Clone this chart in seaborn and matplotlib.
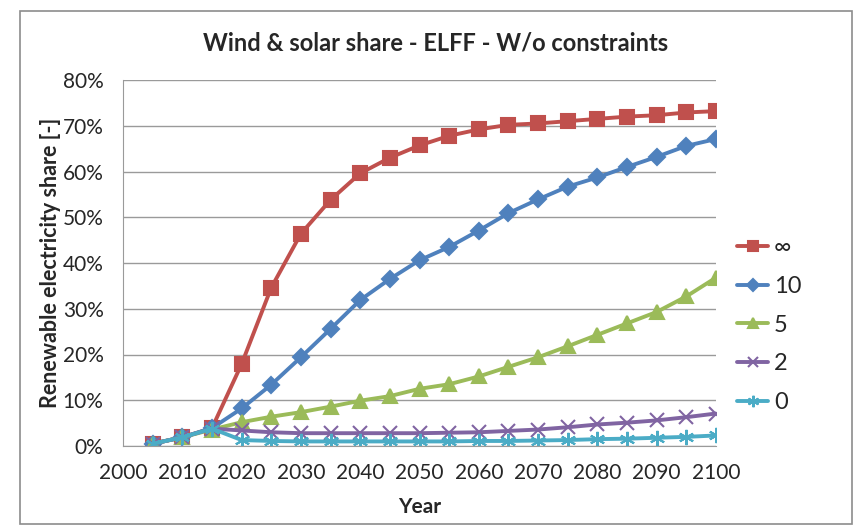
import pandas as pd
import seaborn as sns
import matplotlib.pyplot as plt
from matplotlib.ticker import PercentFormatter
from matplotlib.patches import Rectangle

years = list(range(2005, 2101, 5))

share_inf = [0.5, 1.9, 3.9, 17.9, 34.6, 46.4, 53.8, 59.6, 63.0, 65.7, 67.8, 69.2,
             70.2, 70.5, 71.0, 71.5, 72.0, 72.3, 72.9, 73.2]
share_10 = [0.5, 1.9, 3.9, 8.2, 13.4, 19.4, 25.6, 31.9, 36.5, 40.6, 43.5, 47.1,
            50.9, 53.9, 56.7, 58.7, 61.0, 63.2, 65.6, 67.1]
share_5 = [0.5, 1.9, 3.6, 5.2, 6.4, 7.4, 8.6, 9.9, 10.9, 12.5, 13.5, 15.2,
           17.3, 19.4, 21.8, 24.3, 26.8, 29.3, 32.7, 36.8]
share_2 = [0.5, 1.9, 3.8, 3.4, 3.0, 2.8, 2.8, 2.8, 2.8, 2.8, 2.9, 3.0,
           3.3, 3.6, 4.1, 4.7, 5.1, 5.6, 6.3, 7.1]
share_0 = [0.5, 1.9, 3.8, 1.3, 1.1, 1.0, 1.0, 1.0, 1.0, 1.0, 1.0, 1.1,
           1.1, 1.2, 1.3, 1.5, 1.6, 1.8, 2.0, 2.3]

labels = ['∞', '10', '5', '2', '0']
colores = ['#C0504D', '#4F81BD', '#9BBB59', '#8064A2', '#4BACC6']
marcadores = ['s', 'D', '^', 'x', (6, 2, 0)]
tamanos = [10, 8, 10, 10, 11]

datos = pd.DataFrame({'year': years, '∞': share_inf, '10': share_10, '5': share_5,
                      '2': share_2, '0': share_0})
largo = datos.melt(id_vars='year', var_name='caso', value_name='share')

sns.set_style('white')
plt.rcParams['font.family'] = ['Lato', 'DejaVu Sans']

fig = plt.figure(figsize=(8.54, 5.25), dpi=100)
ax = fig.add_axes([123 / 854, 1 - 446 / 525, (716 - 123) / 854, (446 - 80) / 525])

for lab, col, mk, ms in zip(labels, colores, marcadores, tamanos):
    sub = largo[largo['caso'] == lab]
    sns.lineplot(data=sub, x='year', y='share', ax=ax, color=col, marker=mk,
                 markersize=ms, markeredgecolor=col, markeredgewidth=1.5,
                 linewidth=2.8, label=lab, legend=False)

ax.set_xlim(2000, 2100)
ax.set_ylim(0, 80)
ax.set_xticks(range(2000, 2101, 10))
ax.set_yticks(range(0, 81, 10))
ax.yaxis.set_major_formatter(PercentFormatter(decimals=0))
ax.grid(axis='y', color='#9a9a9a', linewidth=1)
ax.set_axisbelow(True)
for s in ['left', 'bottom']:
    ax.spines[s].set_color('#9a9a9a')
for s in ['top', 'right']:
    ax.spines[s].set_visible(False)
ax.tick_params(axis='both', length=0, labelsize=15, pad=14)
ax.tick_params(axis='x', pad=12)
ax.set_xlabel('Year', fontsize=15, fontweight='bold', labelpad=10)
ax.set_ylabel('Renewable electricity share [-]', fontsize=15.5, fontweight='bold', labelpad=1)
fig.text(436 / 854, 1 - 43 / 525, 'Wind & solar share - ELFF - W/o constraints',
         fontsize=17, fontweight='bold', ha='center', va='center')

handles, lbls = ax.get_legend_handles_labels()
fig.legend(handles, lbls, loc='upper left', bbox_to_anchor=(716 / 854, 1 - 216 / 525),
           frameon=False, fontsize=17, handlelength=1.3, handletextpad=0.25,
           labelspacing=0.75, markerscale=0.75)

fig.add_artist(Rectangle((20 / 854, 0.002), 832 / 854, 1 - 11 / 525 - 0.002,
                         transform=fig.transFigure, fill=False,
                         edgecolor='#8c8c8c', linewidth=1.2))

plt.savefig('out.png', dpi=100)
